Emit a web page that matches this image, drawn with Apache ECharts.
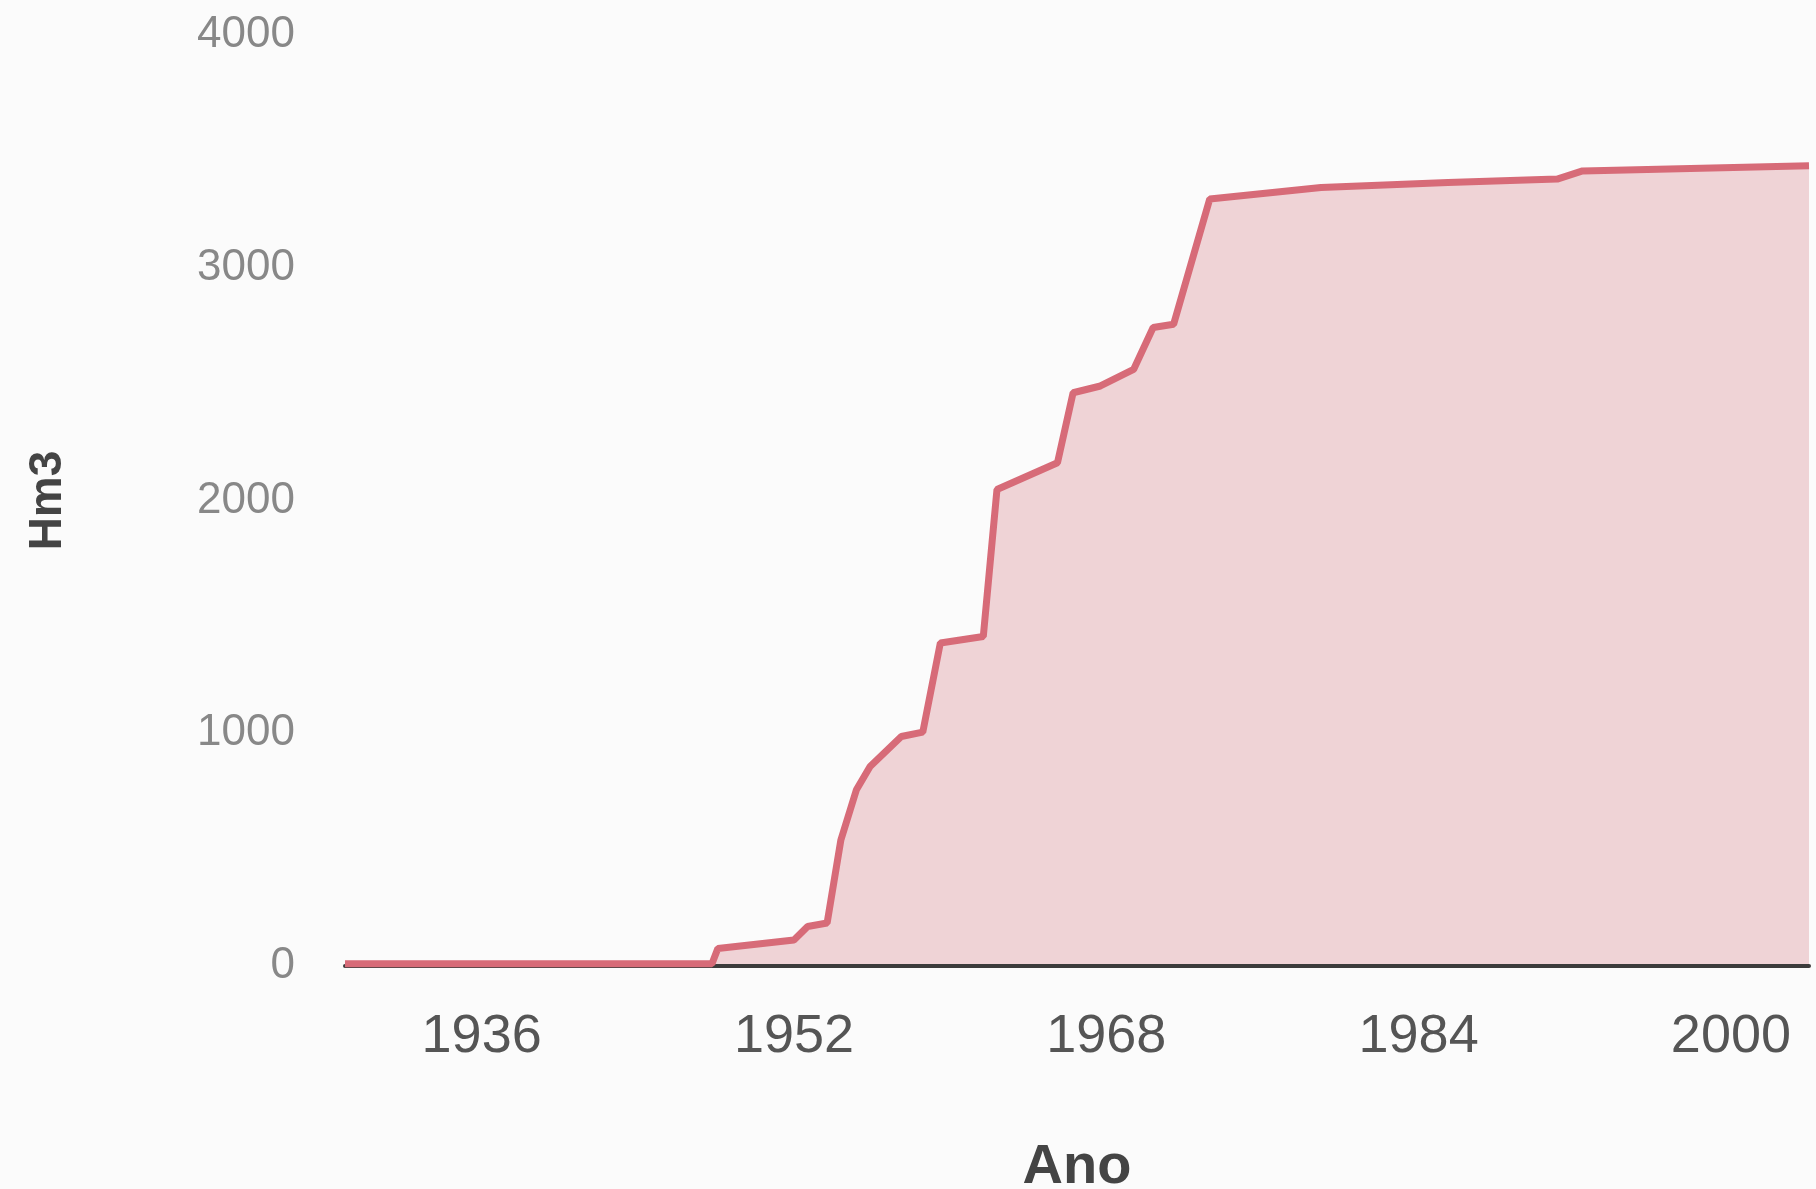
<!DOCTYPE html>
<html>
<head>
<meta charset="utf-8">
<script src="https://cdn.jsdelivr.net/npm/echarts@6/dist/echarts.min.js"></script>
<style>
html,body{margin:0;padding:0;background:#fbfbfb;}
#chart{width:1816px;height:1189px;}
</style>
</head>
<body>
<div id="chart"></div>
<script>
// Cumulative volume (Hm3) by year
const years = [1929, 1947.8, 1948.1, 1952.0, 1952.7, 1953.7, 1954.4, 1955.2, 1955.9, 1957.5, 1958.6,
  1959.5, 1961.7, 1962.4, 1965.5, 1966.3, 1967.7, 1969.4, 1970.4, 1971.45, 1973.3, 1979.0,
  1985.5, 1991.1, 1992.4, 2004];
const volume = [10, 10, 75, 112, 170, 185, 540, 757, 857, 986, 1005,
  1388, 1416, 2047, 2162, 2463, 2492, 2563, 2743, 2757, 3295, 3345,
  3366, 3381, 3416, 3438];
const xTicks = [1936, 1952, 1968, 1984, 2000];
const yTicks = [0, 1000, 2000, 3000, 4000];
const xTitle = 'Ano';
const yTitle = 'Hm3';

const seriesData = years.map((y, i) => [y, volume[i]]);

const chart = echarts.init(document.getElementById('chart'), null, {renderer: 'canvas'});
chart.setOption({
  backgroundColor: '#fbfbfb',
  animation: false,
  grid: {left: 345, right: 7, top: 35, bottom: 223, containLabel: false, outerBoundsMode: 'none'},
  xAxis: {
    type: 'value', min: 1929, max: 2004, z: 2,
    name: xTitle, nameLocation: 'middle', nameGap: 174,
    nameTextStyle: {fontFamily: 'Liberation Sans', fontWeight: 'bold', fontSize: 56, color: '#444'},
    axisLine: {show: true, lineStyle: {color: '#3c3c3c', width: 4}},
    axisTick: {show: false},
    splitLine: {show: false},
    axisLabel: {customValues: xTicks, margin: 44, fontFamily: 'Liberation Sans', fontSize: 54, color: '#555',
      formatter: v => String(v)}
  },
  yAxis: {
    type: 'value', min: 0, max: 4000, interval: 1000,
    name: yTitle, nameLocation: 'middle', nameGap: 274,
    nameTextStyle: {fontFamily: 'Liberation Sans', fontWeight: 'bold', fontSize: 46, color: '#444'},
    axisLine: {show: false},
    axisTick: {show: false},
    splitLine: {show: false},
    axisLabel: {margin: 50, fontFamily: 'Liberation Sans', fontSize: 44, color: '#888',
      customValues: yTicks, formatter: v => String(v)}
  },
  series: [{
    type: 'line',
    data: seriesData,
    showSymbol: false,
    lineStyle: {width: 0, opacity: 0},
    areaStyle: {color: '#efd3d6', opacity: 1},
    z: 1
  }, {
    type: 'line',
    data: seriesData,
    showSymbol: false,
    lineStyle: {color: '#d76b78', width: 7},
    z: 3
  }]
});
</script>
</body>
</html>
